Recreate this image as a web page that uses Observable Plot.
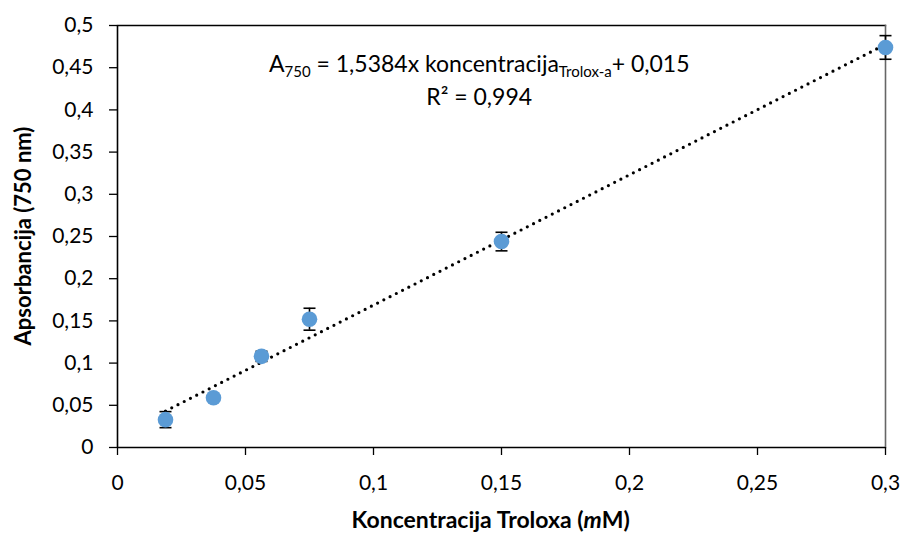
<!DOCTYPE html>
<html>
<head>
<meta charset="utf-8">
<script src="https://cdn.jsdelivr.net/npm/d3@7"></script>
<script src="https://cdn.jsdelivr.net/npm/@observablehq/plot@0.6"></script>
<style>
  html, body { margin: 0; padding: 0; background: #fff; }
  #chart svg { display: block; }
</style>
</head>
<body>
<div id="chart"></div>
<script>
const concentration = [0.01875, 0.0375, 0.05625, 0.075, 0.15, 0.3];
const absorbance    = [0.033, 0.059, 0.108, 0.152, 0.244, 0.474];
const errorSD       = [0.0095, 0.003, 0.006, 0.013, 0.011, 0.014];
const xTicks = [0, 0.05, 0.1, 0.15, 0.2, 0.25, 0.3];
const yTicks = [0, 0.05, 0.1, 0.15, 0.2, 0.25, 0.3, 0.35, 0.4, 0.45, 0.5];

const data = concentration.map((x, i) => ({x, y: absorbance[i], e: errorSD[i]}));
const comma = d => String(d).replace(".", ",");
const FONT = "Lato, 'Open Sans', sans-serif";

// horizontal cap symbol for error bars
const capSymbol = {
  draw(context, size) {
    const r = Math.sqrt(size / Math.PI);
    context.moveTo(-r, 0);
    context.lineTo(r, 0);
  }
};

const plot = Plot.plot({
  width: 904,
  height: 533,
  marginLeft: 117,
  marginRight: 19,
  marginTop: 25,
  marginBottom: 86,
  style: {fontFamily: FONT, fontSize: "21px", color: "#000", background: "#fff"},
  x: {type: "linear", domain: [0, 0.3]},
  y: {type: "linear", domain: [0, 0.5]},
  marks: [
    Plot.frame({anchor: "top", stroke: "#000", strokeWidth: 1.3}),
    Plot.frame({anchor: "right", stroke: "#666", strokeWidth: 1.6}),
    Plot.axisX({ticks: xTicks, tickFormat: comma, tickSize: 8, tickPadding: 20, stroke: "#000", strokeWidth: 1.3, label: null, fontSize: 21}),
    Plot.axisY({ticks: yTicks, tickFormat: comma, tickSize: 8, tickPadding: 16, stroke: "#000", strokeWidth: 1.3, label: null, fontSize: 21}),
    Plot.ruleX([0], {stroke: "#000", strokeWidth: 1.6}),
    Plot.ruleY([0], {stroke: "#000", strokeWidth: 1.6}),
    Plot.linearRegressionY(data, {x: "x", y: "y", ci: 0, stroke: "#000", strokeWidth: 3.2, strokeDasharray: "0 7", strokeLinecap: "round"}),
    Plot.ruleX(data, {x: "x", y1: d => d.y - d.e, y2: d => d.y + d.e, stroke: "#000", strokeWidth: 1.6}),
    Plot.dot(data, {x: "x", y: d => d.y - d.e, symbol: capSymbol, r: 6, stroke: "#000", strokeWidth: 1.6, fill: "none"}),
    Plot.dot(data, {x: "x", y: d => d.y + d.e, symbol: capSymbol, r: 6, stroke: "#000", strokeWidth: 1.6, fill: "none"}),
    Plot.dot(data, {x: "x", y: "y", r: 7.8, fill: "#5B9BD5", stroke: "none"})
  ]
});

const svg = d3.select(plot);
const sx = plot.scale("x"), sy = plot.scale("y");
const px = v => sx.range[0] + (v - sx.domain[0]) / (sx.domain[1] - sx.domain[0]) * (sx.range[1] - sx.range[0]);
const py = v => sy.range[0] + (v - sy.domain[0]) / (sy.domain[1] - sy.domain[0]) * (sy.range[1] - sy.range[0]);

// Equation annotation
const eq = svg.append("text")
  .attr("x", px(0.1415)).attr("y", py(0.444))
  .attr("text-anchor", "middle")
  .attr("font-family", FONT).attr("font-size", 23).attr("fill", "#000");
eq.append("tspan").text("A");
eq.append("tspan").attr("font-size", 15).attr("dy", 5).text("750");
eq.append("tspan").attr("dy", -5).text(" = 1,5384x koncentracija");
eq.append("tspan").attr("font-size", 15).attr("dy", 5).text("Trolox-a");
eq.append("tspan").attr("dy", -5).text("+ 0,015");

svg.append("text")
  .attr("x", px(0.1415)).attr("y", py(0.405))
  .attr("text-anchor", "middle")
  .attr("font-family", FONT).attr("font-size", 23).attr("fill", "#000")
  .text("R² = 0,994");

// Axis titles
const xl = svg.append("text")
  .attr("x", px(0.146)).attr("y", 528)
  .attr("text-anchor", "middle").attr("font-family", FONT)
  .attr("font-size", 23).attr("font-weight", "bold").attr("fill", "#000");
xl.append("tspan").text("Koncentracija Troloxa (");
xl.append("tspan").attr("font-style", "italic").text("m");
xl.append("tspan").text("M)");

svg.append("text")
  .attr("transform", `translate(31,${(sy.range[0] + sy.range[1]) / 2}) rotate(-90)`)
  .attr("text-anchor", "middle").attr("font-family", FONT)
  .attr("font-size", 22).attr("font-weight", "bold").attr("fill", "#000")
  .text("Apsorbancija (750 nm)");

document.getElementById("chart").appendChild(plot);
</script>
</body>
</html>
